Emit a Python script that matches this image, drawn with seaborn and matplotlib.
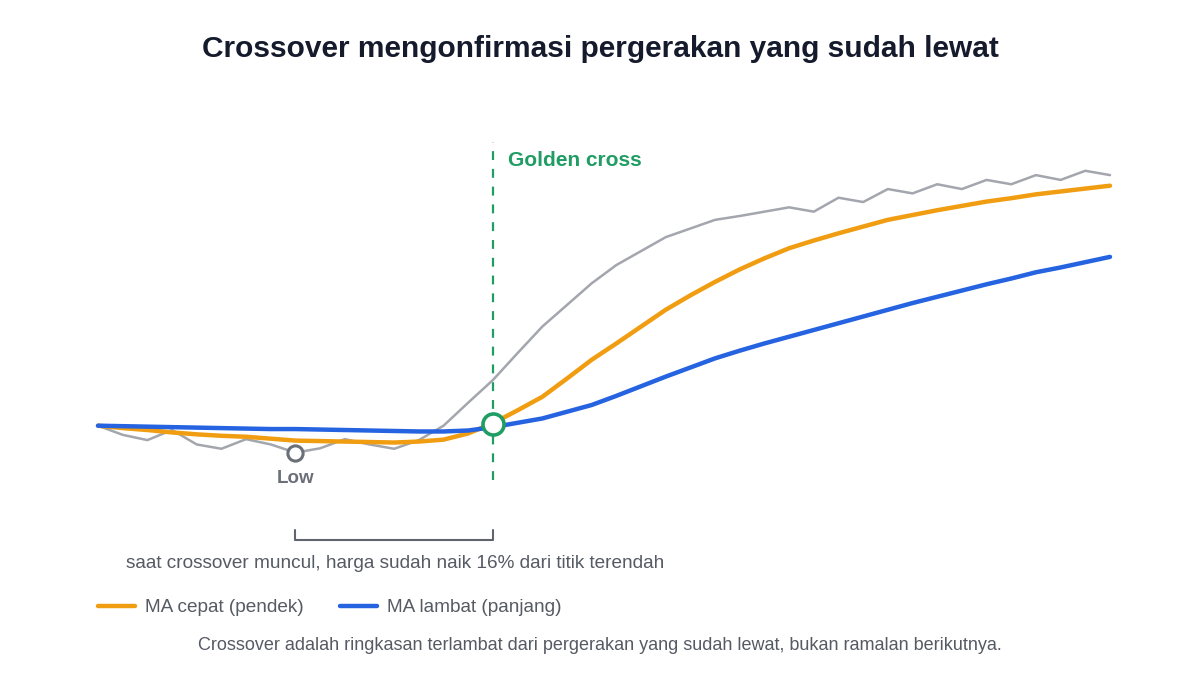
import numpy as np
import pandas as pd
import seaborn as sns
import matplotlib.pyplot as plt
from matplotlib import transforms

# ----- data -----
day = list(range(42))

price = [100.0, 98.1, 97.0, 99.1, 96.1, 95.2, 97.2, 96.1, 94.4, 95.3,
         97.2, 96.1, 95.2, 97.0, 100.0, 104.8, 109.5, 115.1, 120.6, 125.1,
         129.6, 133.4, 136.3, 139.2, 141.0, 142.8, 143.6, 144.5, 145.4, 144.5,
         147.4, 146.5, 149.2, 148.3, 150.2, 149.2, 151.1, 150.2, 152.1, 151.1,
         153.0, 152.1]

ma_fast = [100.0, 99.5, 99.1, 98.6, 98.2, 97.9, 97.7, 97.3, 96.9, 96.8,
           96.7, 96.6, 96.5, 96.7, 97.1, 98.4, 100.5, 103.2, 106.0, 109.8,
           113.7, 117.1, 120.6, 124.1, 127.1, 129.9, 132.5, 134.8, 136.9, 138.5,
           140.0, 141.4, 142.8, 143.8, 144.8, 145.7, 146.6, 147.3, 148.1, 148.7,
           149.3, 149.9]

ma_slow = [100.0, 99.9, 99.8, 99.7, 99.6, 99.5, 99.4, 99.3, 99.3, 99.2,
           99.1, 99.0, 98.9, 98.8, 98.8, 99.0, 99.7, 100.6, 101.5, 102.9,
           104.3, 106.2, 108.2, 110.2, 112.1, 114.0, 115.6, 117.1, 118.5, 119.9,
           121.3, 122.7, 124.1, 125.5, 126.8, 128.1, 129.4, 130.6, 131.9, 132.9,
           134.0, 135.1]

low_idx = 8
cross_idx = 16
cross_val = 100.3

title = "Crossover mengonfirmasi pergerakan yang sudah lewat"
labels = ["MA cepat (pendek)", "MA lambat (panjang)"]
bracket_note = "saat crossover muncul, harga sudah naik 16% dari titik terendah"
footnote = "Crossover adalah ringkasan terlambat dari pergerakan yang sudah lewat, bukan ramalan berikutnya."

# ----- colours -----
GRAY = "#a3a6ad"
ORANGE = "#f09d12"
BLUE = "#2563e0"
GREEN = "#1f9d63"
TEXT = "#555a63"
TITLE = "#151b2c"

sns.set_style("white")
plt.rcParams["font.family"] = ["Liberation Sans", "DejaVu Sans"]

df = pd.DataFrame({"day": day, "price": price, "fast": ma_fast, "slow": ma_slow})

fig = plt.figure(figsize=(12, 7), dpi=100)
ax = fig.add_axes([98 / 1200, 1 - 500 / 700, (1110 - 98) / 1200, 370 / 700])

sns.lineplot(data=df, x="day", y="price", ax=ax, color=GRAY, linewidth=1.8,
             solid_capstyle="round", solid_joinstyle="round", clip_on=False)
sns.lineplot(data=df, x="day", y="fast", ax=ax, color=ORANGE, linewidth=3.2,
             solid_capstyle="round", solid_joinstyle="round", clip_on=False)
sns.lineplot(data=df, x="day", y="slow", ax=ax, color=BLUE, linewidth=3.2,
             solid_capstyle="round", solid_joinstyle="round", clip_on=False)

ax.set_xlim(0, 41)
ax.set_ylim(84.55, 161.48)
ax.axis("off")

# golden cross marker + dashed line
ax.plot([cross_idx, cross_idx], [88.7, 159.0], color=GREEN, lw=1.6,
        ls=(0, (4, 4)), zorder=1, clip_on=False)
ax.scatter([cross_idx], [cross_val], s=230, facecolor="white", edgecolor=GREEN,
           linewidth=2.6, zorder=6, clip_on=False)
ax.text(cross_idx + 0.6, 155.2, "Golden cross", color=GREEN, fontsize=15,
        fontweight="bold", va="center", ha="left")

# low marker
ax.scatter([low_idx], [price[low_idx]], s=120, facecolor="white", edgecolor="#6b6f78",
           linewidth=2.2, zorder=6, clip_on=False)
ax.text(low_idx, price[low_idx] - 5.4, "Low", color="#6b6f78", fontsize=13.5,
        fontweight="bold", ha="center", va="center")

# bracket between low and crossover
trans = transforms.blended_transform_factory(ax.transData, ax.transAxes)
ax.plot([low_idx, low_idx, cross_idx, cross_idx], [-0.081, -0.108, -0.108, -0.081],
        color="#60646c", lw=1.5, transform=trans, clip_on=False)
fig.text(395 / 1200, 1 - 564 / 700, bracket_note, color=TEXT, fontsize=13.7,
         ha="center", va="center")

# title
fig.text(0.5, 1 - 49 / 700, title, color=TITLE, fontsize=21.5, fontweight="bold",
         ha="center", va="center")

# legend
for x0, col, lab in [(98, ORANGE, labels[0]), (340, BLUE, labels[1])]:
    fig.add_artist(plt.Line2D([x0 / 1200, (x0 + 37) / 1200], [1 - 606 / 700] * 2,
                              color=col, lw=3.2, solid_capstyle="round"))
    fig.text((x0 + 47) / 1200, 1 - 608 / 700, lab, color=TEXT, fontsize=13.7,
             ha="left", va="center")

fig.text(0.5, 1 - 646 / 700, footnote, color=TEXT, fontsize=13,
         ha="center", va="center")

fig.savefig("out.png", dpi=100, facecolor="white")
